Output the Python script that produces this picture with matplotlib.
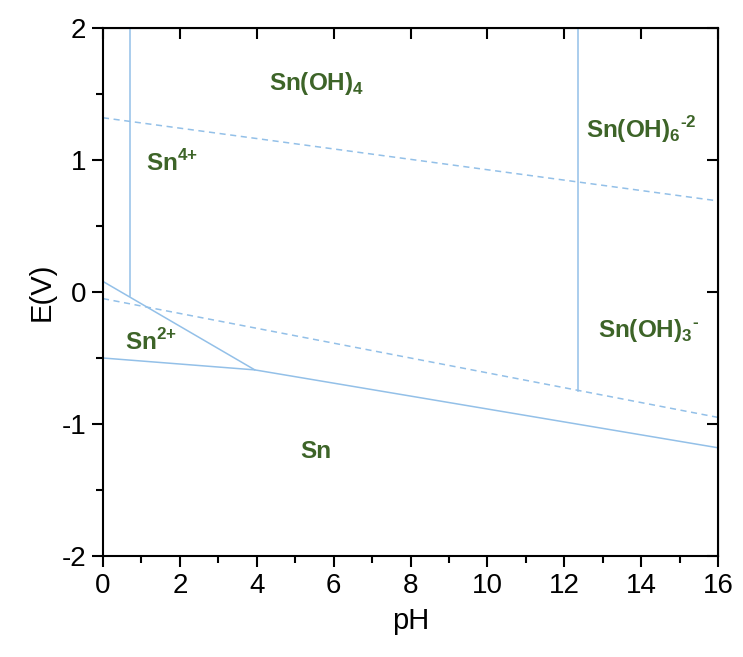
import matplotlib
matplotlib.use('Agg')
import matplotlib.pyplot as plt

plt.rcParams['font.family'] = ['Liberation Sans', 'DejaVu Sans']
plt.rcParams['axes.unicode_minus'] = False
plt.rcParams['mathtext.fontset'] = 'custom'
plt.rcParams['mathtext.rm'] = 'Liberation Sans:bold'
plt.rcParams['mathtext.bf'] = 'Liberation Sans:bold'

# boundary lines (pH, E)
sn4_ohx = [0.70, 0.70]
sn4_ohy = [2.0, -0.03]
oh6_oh4x = [12.35, 12.35]
oh6_oh4y = [2.0, -0.75]
upper_dashx = [0.0, 16.0]
upper_dashy = [1.32, 0.69]
lower_dashx = [0.0, 16.0]
lower_dashy = [-0.05, -0.95]
sn4_sn2x = [0.0, 3.95]
sn4_sn2y = [0.08, -0.59]
sn_linex = [0.0, 3.95, 16.0]
sn_liney = [-0.50, -0.59, -1.18]

labels = [r'Sn(OH)$_4$', r'Sn$^{\text{4+}}$', r'Sn(OH)$_6$$^{\text{-2}}$',
          r'Sn$^{\text{2+}}$', r'Sn(OH)$_3$$^{\text{-}}$', 'Sn']
label_x = [5.55, 1.8, 14.0, 1.25, 14.2, 5.55]
label_y = [1.58, 0.98, 1.23, -0.38, -0.29, -1.21]

line_col = '#93c0e8'
text_col = '#3d6428'

fig = plt.figure(figsize=(7.43, 6.57), dpi=100)
ax = fig.add_axes([0.1386, 0.1537, 0.8278, 0.8037])

ax.plot(sn4_ohx, sn4_ohy, color=line_col, lw=1.1)
ax.plot(oh6_oh4x, oh6_oh4y, color=line_col, lw=1.1)
ax.plot(sn4_sn2x, sn4_sn2y, color=line_col, lw=1.1)
ax.plot(sn_linex, sn_liney, color=line_col, lw=1.1)
ax.plot(upper_dashx, upper_dashy, color=line_col, lw=1.1, ls=(0, (4, 3)))
ax.plot(lower_dashx, lower_dashy, color=line_col, lw=1.1, ls=(0, (4, 3)))

for t, x, y in zip(labels, label_x, label_y):
    ax.text(x, y, t, color=text_col, fontsize=17.5, fontweight='bold',
            ha='center', va='center')

ax.set_xlim(0, 16)
ax.set_ylim(-2, 2)
ax.set_xticks(range(0, 17, 2))
ax.set_xticks(range(1, 16, 2), minor=True)
ax.set_yticks([-2, -1, 0, 1, 2])
ax.set_yticks([-1.5, -0.5, 0.5, 1.5], minor=True)
ax.tick_params(which='major', direction='out', length=8, width=1.5,
               labelsize=20, pad=4)
ax.tick_params(which='minor', direction='out', length=5, width=1.5)
for s in ax.spines.values():
    s.set_linewidth(1.5)

# inward major ticks on top and right
sec_x = ax.secondary_xaxis('top')
sec_x.set_xticks(range(0, 17, 2))
sec_x.tick_params(direction='in', length=8, width=1.5, labeltop=False)
sec_y = ax.secondary_yaxis('right')
sec_y.set_yticks([-2, -1, 0, 1, 2])
sec_y.tick_params(direction='in', length=8, width=1.5, labelright=False)

ax.set_xlabel('pH', fontsize=21, labelpad=6)
ax.set_ylabel('E(V)', fontsize=21, labelpad=4)

fig.savefig('out.png', dpi=100)
